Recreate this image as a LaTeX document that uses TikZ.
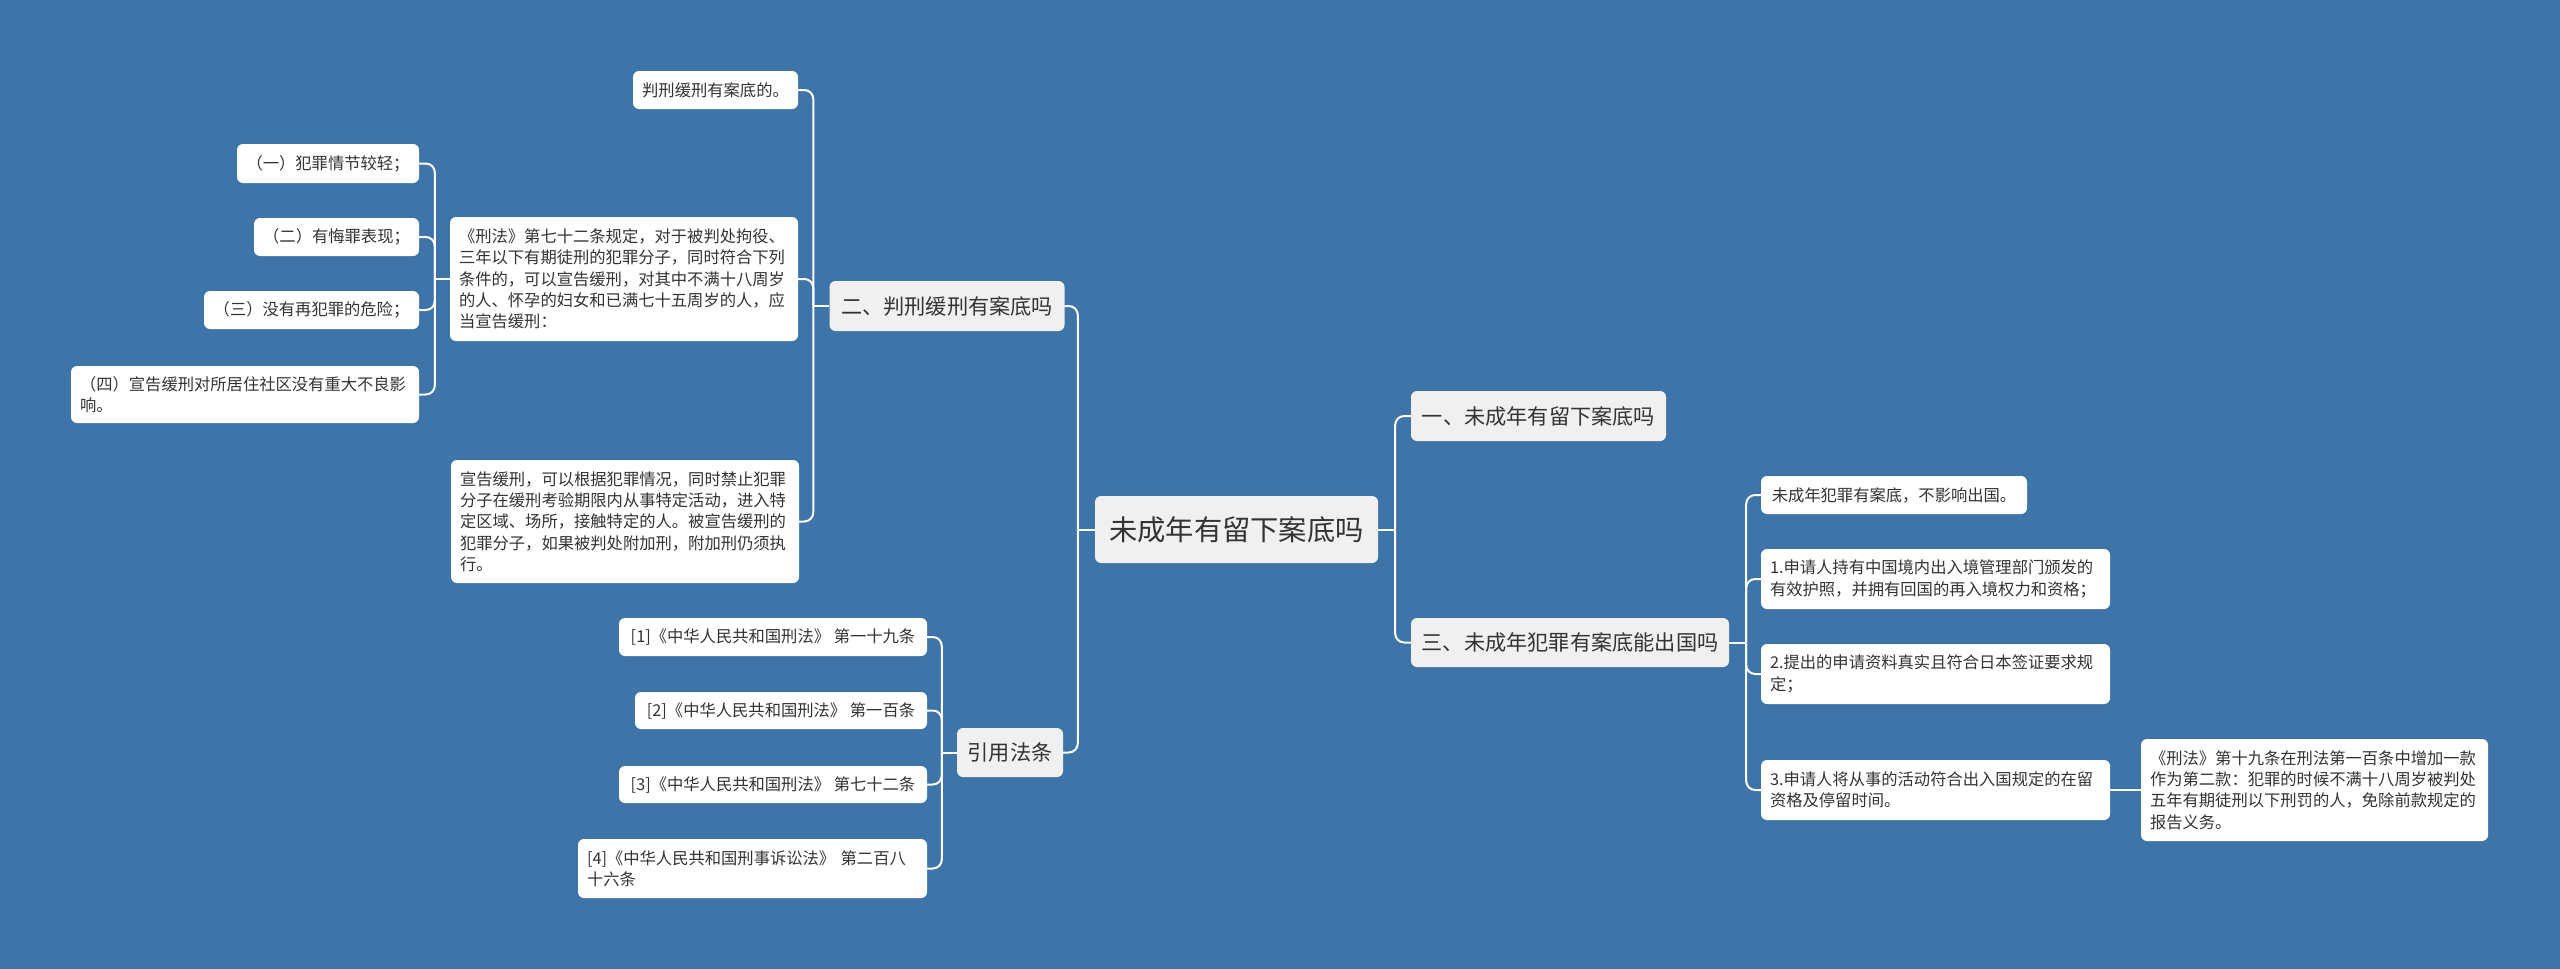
\documentclass[tikz,border=0pt]{standalone}
\usepackage{fontspec}
\newfontfamily\cjk{Noto Sans CJK SC}
\definecolor{bg}{HTML}{3E74A7}
\definecolor{topfill}{HTML}{F0F0F0}
\definecolor{txt}{HTML}{333333}
\tikzset{
  base/.style={rounded corners=6pt, text=txt, inner sep=0pt, anchor=center},
  rootbox/.style={base, fill=topfill, font=\cjk\fontsize{28.3}{34}\selectfont},
  topic/.style={base, fill=topfill, font=\cjk\fontsize{21.2}{26}\selectfont},
  leaf/.style={base, fill=white, font=\cjk\fontsize{16.3}{21.3}\selectfont},
  multi/.style={leaf, align=left, inner xsep=9pt},
  conn/.style={draw=white, line width=2pt},
  elbow/.style={conn, rounded corners=9pt},
}
\begin{document}
\begin{tikzpicture}[x=1pt,y=-1pt]
\fill[bg] (0,0) rectangle (2560,969);

% root and topics
\node[rootbox, minimum width=283pt, minimum height=67pt] (root) at (1236.5,529.5) {未成年有留下案底吗};
\node[topic, minimum width=255pt, minimum height=50pt] (t1) at (1538.5,416) {一、未成年有留下案底吗};
\node[topic, minimum width=318pt, minimum height=49pt] (t3) at (1570,642.5) {三、未成年犯罪有案底能出国吗};
\node[topic, minimum width=235pt, minimum height=50pt] (t2) at (947,306) {二、判刑缓刑有案底吗};
\node[topic, minimum width=106pt, minimum height=49pt] (t4) at (1010,752.5) {引用法条};

% branch 二
\node[leaf, minimum width=165pt, minimum height=38pt] (n1) at (715.5,90) {判刑缓刑有案底的。};
\node[multi, text width=330pt, minimum height=124pt] (n2) at (624,279) {《刑法》第七十二条规定，对于被判处拘役、\\三年以下有期徒刑的犯罪分子，同时符合下列\\条件的，可以宣告缓刑，对其中不满十八周岁\\的人、怀孕的妇女和已满七十五周岁的人，应\\当宣告缓刑：};
\node[multi, text width=330pt, minimum height=123pt] (n3) at (625,521.5) {宣告缓刑，可以根据犯罪情况，同时禁止犯罪\\分子在缓刑考验期限内从事特定活动，进入特\\定区域、场所，接触特定的人。被宣告缓刑的\\犯罪分子，如果被判处附加刑，附加刑仍须执\\行。};

\node[leaf, minimum width=182pt, minimum height=39pt] (c1) at (328,163.5) {（一）犯罪情节较轻；};
\node[leaf, minimum width=165pt, minimum height=38pt] (c2) at (336.5,237) {（二）有悔罪表现；};
\node[leaf, minimum width=215pt, minimum height=38pt] (c3) at (311.5,310) {（三）没有再犯罪的危险；};
\node[multi, text width=330pt, minimum height=57pt] (c4) at (245,394.5) {（四）宣告缓刑对所居住社区没有重大不良影\\响。};

% branch 引用法条
\node[leaf, minimum width=308pt, minimum height=38pt] (r1) at (773,637) {[1]《中华人民共和国刑法》 第一十九条};
\node[leaf, minimum width=292pt, minimum height=37pt] (r2) at (781,710.5) {[2]《中华人民共和国刑法》 第一百条};
\node[leaf, minimum width=308pt, minimum height=37pt] (r3) at (773,784.5) {[3]《中华人民共和国刑法》 第七十二条};
\node[multi, text width=331pt, minimum height=59pt] (r4) at (752.5,868.5) {[4]《中华人民共和国刑事诉讼法》 第二百八\\十六条};

% branch 三
\node[leaf, minimum width=266pt, minimum height=38pt] (s0) at (1894,495) {未成年犯罪有案底，不影响出国。};
\node[multi, text width=331pt, minimum height=60pt] (s1) at (1935.5,579) {1.申请人持有中国境内出入境管理部门颁发的\\有效护照，并拥有回国的再入境权力和资格；};
\node[multi, text width=331pt, minimum height=60pt] (s2) at (1935.5,674) {2.提出的申请资料真实且符合日本签证要求规\\定；};
\node[multi, text width=331pt, minimum height=60pt] (s3) at (1935.5,790) {3.申请人将从事的活动符合出入国规定的在留\\资格及停留时间。};
\node[multi, text width=329pt, minimum height=102pt] (s4) at (2314.5,790) {《刑法》第十九条在刑法第一百条中增加一款\\作为第二款：犯罪的时候不满十八周岁被判处\\五年有期徒刑以下刑罚的人，免除前款规定的\\报告义务。};

% connectors
\coordinate (bR) at ([xshift=17pt]root.east);
\draw[conn] (root.east) -- (bR);
\draw[elbow] (bR) |- (t1.west);
\draw[elbow] (bR) |- (t3.west);

\coordinate (bL) at ([xshift=-17pt]root.west);
\draw[conn] (root.west) -- (bL);
\draw[elbow] (bL) |- (t2.east);
\draw[elbow] (bL) |- (t4.east);

\coordinate (b2) at ([xshift=-16pt]t2.west);
\draw[conn] (t2.west) -- (b2);
\draw[elbow] (b2) |- (n1.east);
\draw[elbow] (b2) |- (n2.east);
\draw[elbow] (b2) |- (n3.east);

\coordinate (bn) at ([xshift=-15pt]n2.west);
\draw[conn] (n2.west) -- (bn);
\draw[elbow] (bn) |- (c1.east);
\draw[elbow] (bn) |- (c2.east);
\draw[elbow] (bn) |- (c3.east);
\draw[elbow] (bn) |- (c4.east);

\coordinate (b4) at ([xshift=-15pt]t4.west);
\draw[conn] (t4.west) -- (b4);
\draw[elbow] (b4) |- (r1.east);
\draw[elbow] (b4) |- (r2.east);
\draw[elbow] (b4) |- (r3.east);
\draw[elbow] (b4) |- (r4.east);

\coordinate (b3) at ([xshift=17pt]t3.east);
\draw[conn] (t3.east) -- (b3);
\draw[elbow] (b3) |- (s0.west);
\draw[elbow] (b3) |- (s1.west);
\draw[elbow] (b3) |- (s2.west);
\draw[elbow] (b3) |- (s3.west);

\draw[conn] (s3.east) -- (s4.west);
\end{tikzpicture}
\end{document}
